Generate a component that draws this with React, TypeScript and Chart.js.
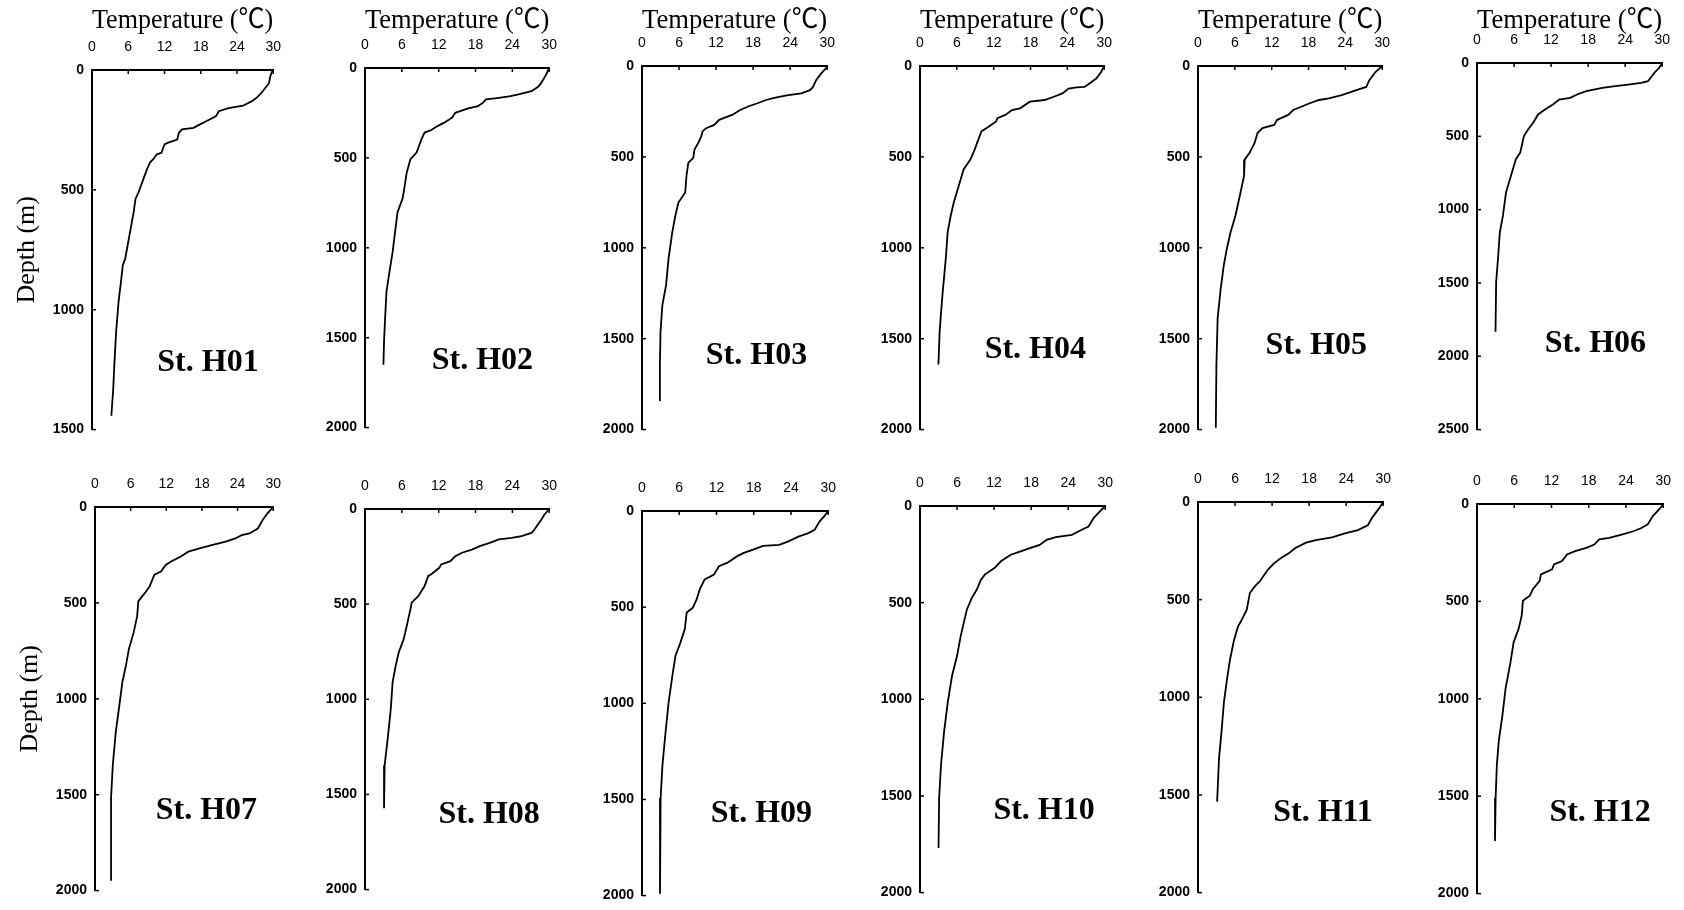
import React, { useEffect, useRef } from "react";
import { Chart, registerables } from "chart.js";

Chart.register(...registerables);

// Station names
const stations = ["St. H01", "St. H02", "St. H03", "St. H04", "St. H05", "St. H06", "St. H07", "St. H08", "St. H09", "St. H10", "St. H11", "St. H12"];

// Maximum depth shown on each panel's depth axis (m)
const depthMax = [1500, 2000, 2000, 2000, 2000, 2500, 2000, 2000, 2000, 2000, 2000, 2000];

// Temperature axis ticks (°C) and depth tick step (m)
const tempMin = 0;
const tempMax = 30;
const tempStep = 6;
const depthStep = 500;

// Profiles: [depth (m), temperature (°C)]
const h01 = [[0, 29.9], [28, 29.5], [55, 29.3], [97, 28.0], [117, 27.2], [131, 26.4], [149, 25.0], [159, 22.6], [172, 21.0], [193, 20.5], [214, 18.9], [228, 17.8], [241, 16.8], [248, 14.9], [262, 14.4], [290, 14.1], [304, 12.5], [310, 12.0], [345, 11.5], [352, 10.7], [373, 10.1], [386, 9.6], [414, 9.1], [455, 8.5], [511, 7.7], [538, 7.2], [593, 6.9], [662, 6.4], [731, 5.9], [787, 5.5], [814, 5.1], [883, 4.8], [966, 4.4], [1090, 4.0], [1228, 3.7], [1338, 3.5], [1442, 3.2]];
const h02 = [[0, 30], [37, 29.5], [83, 28.7], [105, 28.2], [129, 27.1], [147, 25.0], [157, 23.7], [166, 21.8], [175, 19.7], [194, 19.2], [212, 18.4], [225, 16.8], [240, 15.5], [249, 14.7], [276, 14.2], [304, 12.9], [323, 11.8], [345, 10.8], [359, 9.7], [396, 9.2], [470, 8.4], [507, 7.4], [581, 6.8], [691, 6.3], [728, 6.1], [802, 5.3], [912, 4.9], [1023, 4.5], [1152, 3.9], [1244, 3.5], [1373, 3.3], [1521, 3.1], [1650, 3.0]];
const h03 = [[5, 30], [42, 29.0], [78, 28.2], [115, 27.7], [133, 27.2], [151, 25.8], [160, 23.7], [169, 22.4], [178, 21.1], [187, 20.1], [205, 18.7], [220, 17.4], [242, 15.9], [269, 14.6], [287, 13.2], [296, 12.5], [324, 11.7], [342, 10.4], [360, 9.8], [387, 9.6], [424, 9.1], [460, 8.5], [505, 8.3], [533, 7.5], [605, 7.2], [696, 7.0], [751, 5.9], [824, 5.4], [915, 4.9], [1060, 4.3], [1205, 3.9], [1315, 3.3], [1460, 3.0], [1642, 2.9], [1842, 2.9]];
const h04 = [[0, 30], [33, 29.5], [69, 28.7], [96, 27.6], [115, 26.8], [118, 25.5], [124, 24.2], [151, 23.2], [169, 21.8], [187, 20.3], [196, 17.9], [233, 16.3], [242, 15.0], [269, 13.9], [287, 12.6], [305, 12.4], [342, 10.8], [360, 10.0], [405, 9.5], [460, 8.9], [515, 8.2], [569, 7.1], [660, 6.3], [751, 5.5], [824, 5.0], [915, 4.5], [1060, 4.2], [1242, 3.7], [1369, 3.4], [1460, 3.2], [1642, 3.0]];
const h05 = [[0, 30], [33, 28.9], [78, 27.9], [115, 27.4], [133, 25.8], [160, 23.4], [178, 21.3], [187, 19.7], [205, 18.2], [220, 17.1], [242, 15.5], [269, 14.7], [296, 12.9], [324, 12.4], [342, 10.5], [369, 9.7], [424, 9.2], [478, 8.4], [515, 7.6], [605, 7.5], [715, 6.8], [824, 6.1], [915, 5.3], [1005, 4.7], [1096, 4.2], [1224, 3.7], [1387, 3.2], [1642, 3.0], [1990, 2.9]];
const h06 = [[0, 30], [34, 29.5], [68, 28.7], [124, 27.7], [136, 26.6], [147, 24.5], [158, 22.4], [170, 20.3], [192, 17.7], [215, 16.2], [238, 15.1], [249, 13.3], [283, 12.3], [317, 11.0], [351, 9.9], [407, 9.1], [452, 8.3], [498, 7.6], [611, 7.0], [656, 6.3], [769, 5.5], [882, 4.7], [1041, 4.2], [1154, 3.7], [1335, 3.4], [1493, 3.1], [1833, 3.0]];
const h07 = [[0, 30], [34, 29.0], [69, 28.2], [112, 27.4], [138, 26.0], [147, 24.7], [164, 23.6], [181, 22.0], [198, 19.8], [216, 17.6], [233, 15.7], [259, 14.4], [284, 12.8], [302, 11.9], [336, 11.1], [353, 10.0], [414, 9.2], [448, 8.4], [491, 7.3], [569, 7.1], [655, 6.5], [741, 5.7], [828, 5.2], [914, 4.6], [1034, 4.1], [1172, 3.5], [1345, 3.0], [1517, 2.7], [1948, 2.7]];
const h08 = [[0, 30], [30, 29.2], [56, 28.7], [108, 27.6], [126, 27.1], [143, 25.5], [152, 23.9], [160, 21.8], [178, 20.3], [195, 18.7], [213, 17.4], [230, 15.8], [248, 14.7], [274, 13.9], [291, 12.4], [309, 12.1], [343, 10.8], [352, 10.3], [405, 9.7], [457, 8.7], [492, 7.6], [527, 7.4], [614, 6.8], [684, 6.3], [753, 5.5], [823, 5.0], [910, 4.5], [1050, 4.2], [1207, 3.7], [1346, 3.2], [1573, 3.1]];
const h09 = [[0, 30], [29, 29.3], [55, 28.6], [98, 27.8], [115, 26.8], [133, 25.2], [158, 23.6], [176, 22.1], [181, 19.5], [201, 17.9], [219, 16.3], [236, 15.3], [270, 13.7], [287, 12.4], [330, 11.6], [356, 10.1], [408, 9.3], [460, 8.8], [503, 8.2], [528, 7.2], [614, 6.9], [683, 6.2], [752, 5.4], [855, 4.9], [993, 4.3], [1148, 3.8], [1320, 3.3], [1492, 3.0], [1750, 2.9], [1991, 2.9]];
const h10 = [[0, 30], [29, 29.1], [63, 28.1], [106, 27.3], [123, 26.2], [149, 24.6], [161, 22.0], [175, 20.5], [201, 19.4], [218, 17.8], [235, 16.3], [252, 14.7], [286, 13.1], [320, 12.1], [355, 10.5], [380, 9.9], [432, 9.2], [475, 8.4], [535, 7.6], [603, 7.1], [672, 6.6], [775, 6.0], [877, 5.2], [1015, 4.5], [1169, 3.9], [1340, 3.4], [1511, 3.1], [1769, 3.0]];
const h11 = [[0, 30], [34, 29.3], [76, 28.3], [119, 27.5], [144, 25.9], [161, 23.8], [181, 21.7], [195, 19.1], [208, 17.5], [237, 15.7], [263, 14.7], [288, 13.4], [314, 12.3], [347, 11.3], [407, 10.0], [432, 9.2], [466, 8.4], [551, 7.9], [602, 7.1], [636, 6.5], [712, 5.8], [805, 5.2], [907, 4.7], [1025, 4.2], [1178, 3.8], [1314, 3.4], [1534, 3.1]];
const h12 = [[3, 30], [29, 29.3], [63, 28.3], [105, 27.5], [123, 26.5], [140, 25.2], [157, 23.3], [174, 21.3], [182, 19.7], [208, 18.9], [225, 17.6], [242, 15.8], [259, 14.5], [293, 13.7], [310, 12.4], [335, 12.1], [361, 10.3], [395, 10.1], [437, 9.0], [471, 8.5], [497, 7.4], [573, 7.2], [641, 6.7], [710, 5.9], [812, 5.4], [948, 4.6], [1084, 4.1], [1220, 3.5], [1339, 3.2], [1509, 3.0], [1730, 2.9]];

const profiles = [h01, h02, h03, h04, h05, h06, h07, h08, h09, h10, h11, h12];

// ---- layout (pixels) ----
const plotBoxes = [
  [92, 70, 279, 432], [365, 68, 555, 430], [642, 66, 833, 432], [920, 66, 1110, 432], [1198, 66, 1388, 432], [1477, 63, 1668, 432],
  [95, 507, 279, 893], [365, 509, 555, 892], [642, 511, 834, 898], [920, 506, 1111, 895], [1198, 502, 1389, 895], [1477, 504, 1669, 896],
];
const labelFrac = [
  [0.64, 0.815], [0.637, 0.815], [0.618, 0.798], [0.626, 0.781], [0.642, 0.77], [0.639, 0.767],
  [0.625, 0.793], [0.674, 0.804], [0.641, 0.788], [0.67, 0.789], [0.675, 0.796], [0.661, 0.793],
];

const SERIF = '"Liberation Serif", "Noto Sans CJK SC", "Times New Roman", serif';
const SANS = '"Liberation Sans", Arial, sans-serif';

const panelDecor = {
  id: "panelDecor",
  afterDraw(chart: any, _args: any, opts: any) {
    const { ctx, chartArea, scales } = chart;
    const xs = scales.x;
    const ys = scales.y;
    ctx.save();
    ctx.strokeStyle = "#000";
    ctx.lineWidth = 1.5;
    xs.ticks.forEach((t: any) => {
      const px = xs.getPixelForValue(t.value);
      ctx.beginPath();
      ctx.moveTo(px, chartArea.top);
      ctx.lineTo(px, chartArea.top + 4);
      ctx.stroke();
    });
    ys.ticks.forEach((t: any) => {
      const py = ys.getPixelForValue(t.value);
      ctx.beginPath();
      ctx.moveTo(chartArea.left, py);
      ctx.lineTo(chartArea.left + 4, py);
      ctx.stroke();
    });
    ctx.fillStyle = "#000";
    ctx.font = "bold 32px " + SERIF;
    ctx.textAlign = "center";
    ctx.textBaseline = "middle";
    ctx.fillText(
      opts.label,
      chartArea.left + opts.fx * (chartArea.right - chartArea.left),
      chartArea.top + opts.fy * (chartArea.bottom - chartArea.top)
    );
    ctx.restore();
  },
};

function Panel({ idx }: { idx: number }) {
  const ref = useRef<HTMLCanvasElement | null>(null);
  const [pl, pt, pr, pb] = plotBoxes[idx];
  const topRow = idx < 6;
  const hasDepthTitle = idx === 0 || idx === 6;
  const YW = hasDepthTitle ? 80 : 70;
  const XH = topRow ? pt : 60;
  const RP = 16;
  const BP = 14;
  const left = pl - YW;
  const top = pt - XH;
  const width = pr - pl + YW + RP;
  const height = pb - pt + XH + BP;

  useEffect(() => {
    if (!ref.current) return;
    const data = profiles[idx].map(([d, t]) => ({ x: t, y: d }));
    const chart = new Chart(ref.current, {
      type: "scatter",
      data: {
        datasets: [
          {
            data,
            showLine: true,
            borderColor: "#000",
            borderWidth: 1.8,
            pointRadius: 0,
            tension: 0,
            clip: false as any,
          },
        ],
      },
      options: {
        responsive: false,
        animation: false,
        layout: { padding: { left: 0, top: 0, right: RP, bottom: BP } },
        plugins: {
          legend: { display: false },
          tooltip: { enabled: false },
          panelDecor: { label: stations[idx], fx: labelFrac[idx][0], fy: labelFrac[idx][1] },
        } as any,
        scales: {
          x: {
            type: "linear",
            position: "top",
            min: tempMin,
            max: tempMax,
            ticks: { stepSize: tempStep, padding: 14, color: "#000", font: { family: SANS, size: 14 }, maxRotation: 0, autoSkip: false, callback: (v: any) => String(v) },
            grid: { display: true, drawOnChartArea: false, drawTicks: false },
            border: { display: true, color: "#000", width: 2 },
            title: {
              display: topRow,
              text: "Temperature (℃)",
              color: "#000",
              font: { family: SERIF, size: 27 },
              padding: { top: 5, bottom: 0 },
            },
            afterFit: (s: any) => {
              s.height = XH;
            },
          },
          y: {
            type: "linear",
            reverse: true,
            min: 0,
            max: depthMax[idx],
            ticks: { stepSize: depthStep, padding: 8, color: "#000", font: { family: SANS, size: 14, weight: "bold" }, autoSkip: false, callback: (v: any) => String(v) },
            grid: { display: true, drawOnChartArea: false, drawTicks: false },
            border: { display: true, color: "#000", width: 2 },
            title: {
              display: hasDepthTitle,
              text: "Depth (m)",
              color: "#000",
              font: { family: SERIF, size: 26 },
              padding: { top: 0, bottom: 0 },
            },
            afterFit: (s: any) => {
              s.width = YW;
            },
          },
        },
      } as any,
      plugins: [panelDecor],
    });
    return () => chart.destroy();
  }, [idx]);

  return (
    <canvas
      ref={ref}
      width={width}
      height={height}
      style={{ position: "absolute", left, top, width, height }}
    />
  );
}

export default function App() {
  return (
    <div style={{ position: "absolute", left: 0, top: 0, width: 1684, height: 910, background: "#fff", overflow: "hidden" }}>
      {stations.map((_, i) => (
        <Panel key={i} idx={i} />
      ))}
    </div>
  );
}
